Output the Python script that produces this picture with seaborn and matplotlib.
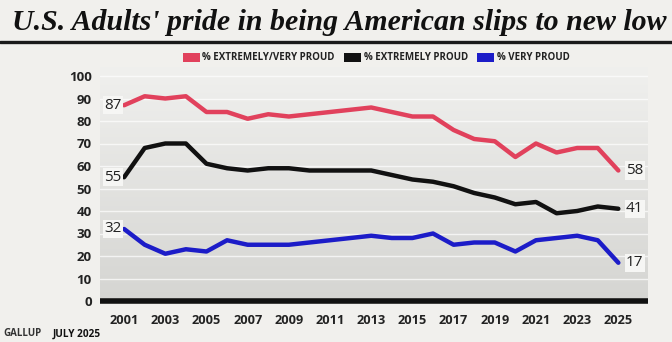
import numpy as np
import pandas as pd
import seaborn as sns
import matplotlib
matplotlib.use("Agg")
import matplotlib.pyplot as plt
from matplotlib.patches import Patch
from matplotlib.colors import LinearSegmentedColormap

# ---------------- data ----------------
years = list(range(2001, 2026))
extremely_very = [87, 91, 90, 91, 84, 84, 81, 83, 82, 83, 84, 85, 86, 84, 82, 82,
                  76, 72, 71, 64, 70, 66, 68, 68, 58]
extremely = [55, 68, 70, 70, 61, 59, 58, 59, 59, 58, 58, 58, 58, 56, 54, 53,
             51, 48, 46, 43, 44, 39, 40, 42, 41]
very = [32, 25, 21, 23, 22, 27, 25, 25, 25, 26, 27, 28, 29, 28, 28, 30,
        25, 26, 26, 22, 27, 28, 29, 27, 17]
series_names = ["% EXTREMELY/VERY PROUD", "% EXTREMELY PROUD", "% VERY PROUD"]
y_ticks = [0, 10, 20, 30, 40, 50, 60, 70, 80, 90, 100]
x_ticks = list(range(2001, 2026, 2))
title = "U.S. Adults' pride in being American slips to new low"
source = "GALLUP"
date = "JULY 2025"

colors = ["#e1415c", "#111111", "#1c1cc8"]

df = pd.DataFrame({
    "year": years * 3,
    "value": extremely_very + extremely + very,
    "series": [series_names[0]] * len(years) + [series_names[1]] * len(years)
              + [series_names[2]] * len(years),
})

# ---------------- figure ----------------
sns.set_theme(style="white")
plt.rcParams["font.family"] = ["Open Sans", "DejaVu Sans"]
BG = "#f1f0ed"
fig = plt.figure(figsize=(6.72, 3.42), dpi=100, facecolor=BG)
ax = fig.add_axes([100 / 672, 1 - 301 / 342, 548 / 672, 234 / 342])
ax.set_facecolor(BG)

xmin, xmax = 1999.83, 2026.44
ymax = 104
ax.set_xlim(xmin, xmax)
ax.set_ylim(0, ymax)

# gradient background
cmap = LinearSegmentedColormap.from_list("g", ["#d5d5d2", "#f0f0ee"])
grad = np.linspace(0, 1, 256)[:, None]
ax.imshow(grad, extent=[xmin, xmax, 0, ymax], aspect="auto", cmap=cmap,
          origin="lower", zorder=0)

for v in y_ticks[1:]:
    ax.axhline(v, color="white", lw=1.0, alpha=0.7, zorder=1)

sns.lineplot(data=df, x="year", y="value", hue="series", palette=colors,
             hue_order=series_names, linewidth=3.2, legend=False, ax=ax,
             zorder=3)
for line in ax.lines[-3:]:
    line.set_solid_joinstyle("round")
    line.set_solid_capstyle("round")

ax.axhline(0, color="#111111", lw=4, zorder=4, clip_on=False,
           solid_capstyle="butt")

for s in ax.spines.values():
    s.set_visible(False)
ax.set_xticks(x_ticks)
ax.set_xticklabels([str(x) for x in x_ticks], fontsize=9.2, fontweight="bold",
                   color="#222222")
ax.set_yticks(y_ticks)
ax.set_yticklabels([str(y) for y in y_ticks], fontsize=9.5, fontweight="bold",
                   color="#222222")
ax.tick_params(axis="both", length=0)
ax.tick_params(axis="x", pad=9)
ax.tick_params(axis="y", pad=6)
ax.set_xlabel("")
ax.set_ylabel("")

# end labels
for vals in (extremely_very, extremely, very):
    ax.text(2000.45, vals[0], str(vals[0]), ha="center", va="center",
            fontsize=11, color="#222222", zorder=5,
            bbox=dict(boxstyle="square,pad=0.1", fc="#f6f6f4", ec="none"))
    ax.text(2025.8, vals[-1], str(vals[-1]), ha="center", va="center",
            fontsize=11, color="#222222", zorder=5,
            bbox=dict(boxstyle="square,pad=0.1", fc="#f6f6f4", ec="none"))

# title and rule
fig.text(12 / 672, 1 - 22 / 342, title, ha="left", va="center",
         fontsize=21.5, fontweight="bold", fontstyle="italic",
         family=["Liberation Serif", "DejaVu Serif"], color="#111111")
fig.add_artist(plt.Line2D([0, 1], [1 - 42 / 342, 1 - 42 / 342],
                          color="#1a1a1a", lw=2.4, transform=fig.transFigure))

# legend
handles = [Patch(facecolor=c, edgecolor="none") for c in colors]
fig.legend(handles, series_names, ncol=3, loc="center",
           bbox_to_anchor=(376 / 672, 1 - 58 / 342), frameon=False,
           prop=dict(size=7, weight="bold"), handlelength=1.75,
           handleheight=1.05, handletextpad=0.3, columnspacing=0.9,
           labelcolor="#222222")

# footer
fig.text(3 / 672, 1 - 334 / 342, source, ha="left", va="center",
         fontsize=7, fontweight="bold", color="#333333")
fig.text(53 / 672, 1 - 334 / 342, date, ha="left", va="center",
         fontsize=7.2, fontweight="bold", color="#111111")

fig.savefig("out.png", dpi=100, facecolor=BG)
